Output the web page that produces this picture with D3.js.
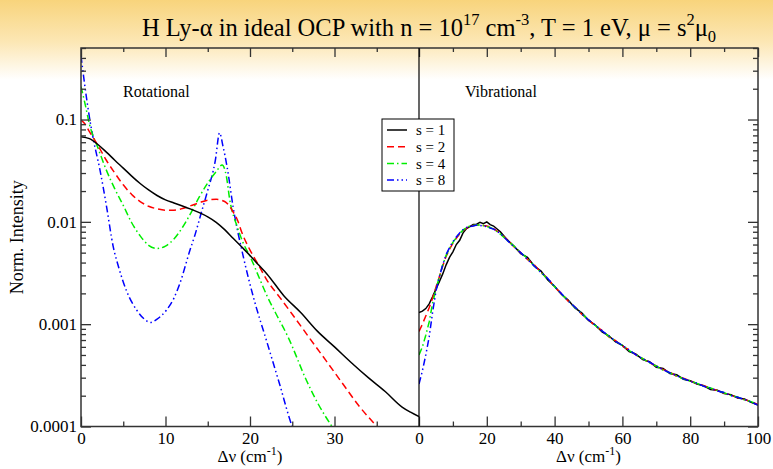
<!DOCTYPE html>
<html>
<head>
<meta charset="utf-8">
<script src="https://cdn.jsdelivr.net/npm/d3@7"></script>
<style>
body { margin: 0; background: #fff; }
svg text { font-family: "Liberation Serif", "Times New Roman", serif; }
</style>
</head>
<body>
<script>
// Rotational panel (x in cm^-1, 0..40)
var rotX1 = [0,1,2,3,4,5,6,7,8,9,10,11,12,13,14,15,16,17,18,19,20,21,22,24,26,28,30,32,34,36,38,39,40];
var rotY1 = [0.068,0.065,0.057,0.048,0.040,0.0335,0.028,0.0237,0.0205,0.0181,0.0164,0.0153,0.0143,0.0133,0.0123,0.0112,0.0099,0.0084,0.0069,0.0057,0.0047,0.0038,0.0031,0.0019,0.0013,0.00085,0.00060,0.00042,0.00030,0.00022,0.000155,0.000138,0.000125];

var rotX2 = [0,0.5,1,2,3,4,5,6,7,8,9,10,11,12,13,14,15,16,17,17.5,18,18.5,19,20,21,22,23.5,25,27,29,31,33,35,36];
var rotY2 = [0.099,0.09,0.076,0.056,0.040,0.030,0.023,0.0185,0.0158,0.0142,0.0134,0.0130,0.0130,0.0135,0.0144,0.0154,0.0163,0.0166,0.0158,0.0145,0.0125,0.0105,0.0080,0.0053,0.0038,0.0027,0.00184,0.00125,0.00074,0.00044,0.00026,0.000155,0.0001,0.00008];

var rotX4 = [0,0.5,1,2,3,4,5,6,7,8,9,10,11,12,13,14,15,16,16.7,17.2,17.6,18.5,19.2,20,21.2,22,23,24.5,26.7,28,29.7,30.5];
var rotY4 = [0.21,0.14,0.09,0.053,0.032,0.021,0.0145,0.0098,0.0073,0.0059,0.0055,0.0058,0.0068,0.0088,0.0122,0.0175,0.024,0.031,0.036,0.028,0.0165,0.0089,0.0062,0.0046,0.0027,0.0019,0.0013,0.00075,0.00028,0.00017,0.0001,0.00008];

var rotX8 = [0,0.5,1,1.5,2.25,3,3.8,4.5,5.4,6.6,7.5,8.2,9,10.1,11,11.7,12.9,13.5,14.2,14.9,15.9,16.4,16.8,17.3,18,19.2,20.4,22,23.5,25,25.5];
var rotY8 = [0.42,0.2,0.105,0.062,0.032,0.0145,0.0058,0.0035,0.0021,0.00137,0.00112,0.00104,0.00112,0.00137,0.0018,0.0025,0.0053,0.0075,0.012,0.019,0.040,0.074,0.055,0.034,0.014,0.0046,0.00184,0.00067,0.00026,0.0001,0.00008];

// Vibrational panel (x in cm^-1, 0..100)
var vibX = [0,1,2,3,4,5,6,7,8,9,10,11,12,13,14,15,16,17,18,19,20,21,22,24,26,28,30,32,34,36,38,40,42,44,46,48,50,52,54,56,58,60,62,64,66,68,70,72,74,76,78,80,82,84,86,88,90,92,94,96,98,100];
var vibY1 = [0.00130,0.00134,0.00142,0.00158,0.00185,0.0022,0.0026,0.0031,0.0038,0.0045,0.0051,0.0060,0.0066,0.0078,0.0086,0.0090,0.0094,0.0095,0.0099,0.0096,0.0100,0.0094,0.0091,0.0080,0.0067,0.0058,0.0049,0.0045,0.0037,0.0033,0.0027,0.00235,0.00196,0.00172,0.00144,0.00129,0.00109,0.00098,0.00084,0.00077,0.00067,0.00062,0.00054,0.00051,0.00045,0.00043,0.00038,0.00037,0.00033,0.00032,0.00029,0.00028,0.00026,0.00025,0.00023,0.000226,0.00021,0.000205,0.00019,0.000186,0.000172,0.000162];
var vibY2 = [0.00085,0.00100,0.00120,0.00145,0.0018,0.0023,0.0029,0.0037,0.0046,0.0054,0.0062,0.0069,0.0076,0.0082,0.0087,0.0090,0.0092,0.0093,0.0094,0.0092,0.0091,0.0089,0.0086,0.0077,0.0067,0.0057,0.0050,0.0043,0.0038,0.0032,0.0028,0.0023,0.00199,0.00168,0.00147,0.00125,0.00111,0.00096,0.00087,0.00075,0.00069,0.00061,0.00056,0.00050,0.00046,0.00042,0.00039,0.00036,0.00034,0.00031,0.000296,0.00028,0.000262,0.00025,0.000236,0.000225,0.000212,0.000203,0.000192,0.000183,0.000176,0.000164];
var vibY4 = [0.00050,0.00060,0.00078,0.00105,0.0016,0.0022,0.0029,0.0038,0.0047,0.0055,0.0063,0.0070,0.0077,0.0083,0.0088,0.0091,0.0092,0.0093,0.0093,0.0092,0.0090,0.0088,0.0085,0.0076,0.0066,0.0058,0.0050,0.0044,0.0037,0.0032,0.00275,0.00232,0.00197,0.0017,0.00146,0.00127,0.0011,0.00097,0.00086,0.00076,0.00068,0.00062,0.00055,0.000505,0.00046,0.00042,0.00039,0.000355,0.000335,0.000312,0.000292,0.000278,0.000264,0.000248,0.000238,0.000224,0.000214,0.000201,0.000194,0.000182,0.000175,0.000163];
var vibY8 = [0.00026,0.00035,0.00050,0.00075,0.0013,0.0021,0.0029,0.0038,0.0048,0.0056,0.0064,0.0071,0.0078,0.0084,0.0088,0.0090,0.0091,0.0093,0.0092,0.0091,0.0090,0.0087,0.0085,0.0077,0.0066,0.0057,0.0050,0.0043,0.0037,0.0032,0.0028,0.00233,0.00199,0.00169,0.00147,0.00126,0.0011,0.00098,0.00086,0.00077,0.00068,0.00062,0.00056,0.0005,0.00046,0.000425,0.00039,0.000358,0.000335,0.000314,0.000294,0.000276,0.000265,0.000247,0.000237,0.000223,0.000215,0.0002,0.000193,0.000184,0.000173,0.000162];

var seriesNames = ["s = 1", "s = 2", "s = 4", "s = 8"];
var rotTicks = [0, 10, 20, 30];
var vibTicks = [0, 20, 40, 60, 80, 100];
var yTicks = [1e-4, 1e-3, 1e-2, 1e-1];
var yTickLabels = ["0.0001", "0.001", "0.01", "0.1"];

// line styles
var colors = ["#000000", "#ff0000", "#00ee00", "#0000ff"];
var dashes = [null, "7,4", "7,3,1.5,3", "7,3,1.5,3,1.5,3"];

var W = 773, H = 469;
var m = { left: 81, mid: 419, right: 758, top: 48, bottom: 426.5 };
var font = "Liberation Serif";

var svg = d3.select("body").append("svg")
    .attr("width", W)
    .attr("height", H);

// page background gradient
var defs = svg.append("defs");
var grad = defs.append("linearGradient")
    .attr("id", "bg").attr("x1", 0).attr("y1", 0).attr("x2", 0).attr("y2", 1);
grad.append("stop").attr("offset", 0).attr("stop-color", "#f8d47c");
grad.append("stop").attr("offset", 0.09).attr("stop-color", "#fce7b5");
grad.append("stop").attr("offset", 0.17).attr("stop-color", "#ffffff");
svg.append("rect").attr("width", W).attr("height", H).attr("fill", "url(#bg)");

defs.append("clipPath").attr("id", "clipRot").append("rect")
    .attr("x", m.left).attr("y", m.top).attr("width", m.mid - m.left).attr("height", m.bottom - m.top);
defs.append("clipPath").attr("id", "clipVib").append("rect")
    .attr("x", m.mid).attr("y", m.top).attr("width", m.right - m.mid).attr("height", m.bottom - m.top);

var xRot = d3.scaleLinear().domain([0, 40]).range([m.left, m.mid]);
var xVib = d3.scaleLinear().domain([0, 100]).range([m.mid, m.right]);
var y = d3.scaleLog().domain([1e-4, 0.5]).range([m.bottom, m.top]);

function zip(xs, ys) {
    return xs.map(function(d, i) { return [d, ys[i]]; });
}

var rotData = [zip(rotX1, rotY1), zip(rotX2, rotY2), zip(rotX4, rotY4), zip(rotX8, rotY8)];
var vibData = [zip(vibX, vibY1), zip(vibX, vibY2), zip(vibX, vibY4), zip(vibX, vibY8)];

var rotLine = d3.line()
    .x(function(d) { return xRot(d[0]); })
    .y(function(d) { return y(d[1]); })
    .curve(d3.curveMonotoneX);
var vibLine = d3.line()
    .x(function(d) { return xVib(d[0]); })
    .y(function(d) { return y(d[1]); });

// draw blue first so black ends up on top
var order = [3, 2, 1, 0];
svg.append("g").attr("clip-path", "url(#clipRot)")
    .selectAll("path")
    .data(order)
    .enter()
    .append("path")
    .attr("d", function(i) { return rotLine(rotData[i]); })
    .attr("fill", "none")
    .attr("stroke", function(i) { return colors[i]; })
    .attr("stroke-width", 1.5)
    .attr("stroke-dasharray", function(i) { return dashes[i]; });

svg.append("g").attr("clip-path", "url(#clipVib)")
    .selectAll("path")
    .data([0, 1, 2, 3])
    .enter()
    .append("path")
    .attr("d", function(i) { return vibLine(vibData[i]); })
    .attr("fill", "none")
    .attr("stroke", function(i) { return colors[i]; })
    .attr("stroke-width", 1.5)
    .attr("stroke-dasharray", function(i) { return dashes[i]; });

// axes: ticks point inward
function styleAxis(g) {
    g.select(".domain").remove();
    g.attr("font-size", 17).attr("font-family", font);
    g.selectAll("line").attr("stroke", "#333").attr("stroke-width", 1.3);
    g.selectAll("text").attr("fill", "#000");
}

function xAxisPair(scale, majors, minors, labelled) {
    var bot = svg.append("g").attr("transform", "translate(0," + m.bottom + ")");
    bot.call(d3.axisBottom(scale).tickValues(majors).tickSize(-10).tickPadding(5)
        .tickFormat(labelled ? d3.format("d") : ""));
    styleAxis(bot);
    var botMinor = svg.append("g").attr("transform", "translate(0," + m.bottom + ")");
    botMinor.call(d3.axisBottom(scale).tickValues(minors).tickSize(-5).tickFormat(""));
    styleAxis(botMinor);
    var tp = svg.append("g").attr("transform", "translate(0," + m.top + ")");
    tp.call(d3.axisTop(scale).tickValues(majors).tickSize(-9).tickFormat(""));
    styleAxis(tp);
    var tpMinor = svg.append("g").attr("transform", "translate(0," + m.top + ")");
    tpMinor.call(d3.axisTop(scale).tickValues(minors).tickSize(-4).tickFormat(""));
    styleAxis(tpMinor);
}

xAxisPair(xRot, rotTicks, [5, 15, 25, 35], true);
xAxisPair(xVib, vibTicks, [10, 30, 50, 70, 90], true);

var yMinor = [];
[1e-4, 1e-3, 1e-2, 1e-1].forEach(function(dec) {
    for (var k = 2; k <= 9; k++) {
        var v = dec * k;
        if (v <= 0.5) yMinor.push(v);
    }
});

var yl = svg.append("g").attr("transform", "translate(" + m.left + ",0)");
yl.call(d3.axisLeft(y).tickValues(yTicks).tickSize(-10).tickPadding(4)
    .tickFormat(function(d, i) { return yTickLabels[i]; }));
styleAxis(yl);
var ylMinor = svg.append("g").attr("transform", "translate(" + m.left + ",0)");
ylMinor.call(d3.axisLeft(y).tickValues(yMinor).tickSize(-5).tickFormat(""));
styleAxis(ylMinor);

var yr = svg.append("g").attr("transform", "translate(" + m.right + ",0)");
yr.call(d3.axisRight(y).tickValues(yTicks).tickSize(-10).tickFormat(""));
styleAxis(yr);
var yrMinor = svg.append("g").attr("transform", "translate(" + m.right + ",0)");
yrMinor.call(d3.axisRight(y).tickValues(yMinor).tickSize(-5).tickFormat(""));
styleAxis(yrMinor);

// frame and panel divider
svg.append("rect")
    .attr("x", m.left).attr("y", m.top)
    .attr("width", m.right - m.left).attr("height", m.bottom - m.top)
    .attr("fill", "none")
    .attr("stroke", "#333")
    .attr("stroke-width", 1.5);
svg.append("line")
    .attr("x1", m.mid).attr("x2", m.mid)
    .attr("y1", m.top).attr("y2", m.bottom)
    .attr("stroke", "#000")
    .attr("stroke-width", 1.2);

// legend
var legend = svg.append("g").attr("transform", "translate(382,119)");
legend.append("rect")
    .attr("width", 72).attr("height", 72)
    .attr("fill", "#fff")
    .attr("stroke", "#000")
    .attr("stroke-width", 1);
var rows = legend.selectAll(".row")
    .data(seriesNames)
    .enter()
    .append("g")
    .attr("class", "row")
    .attr("transform", function(d, i) { return "translate(0," + (11 + i * 16.7) + ")"; });
rows.append("line")
    .attr("x1", 5).attr("x2", 25)
    .attr("stroke", function(d, i) { return colors[i]; })
    .attr("stroke-width", 1.5)
    .attr("stroke-dasharray", function(d, i) { return dashes[i]; });
rows.append("text")
    .attr("x", 34)
    .attr("dy", "0.35em")
    .style("font-size", "15px")
    .text(function(d) { return d; });

// panel labels
svg.append("text").attr("x", 123).attr("y", 97).style("font-size", "16px").text("Rotational");
svg.append("text").attr("x", 465).attr("y", 97).style("font-size", "16px").text("Vibrational");

// axis titles
function xTitle(cx) {
    var t = svg.append("text")
        .attr("x", cx).attr("y", 462)
        .attr("text-anchor", "middle")
        .style("font-size", "17px");
    t.append("tspan").text("\u0394\u03bd (cm");
    t.append("tspan").attr("dy", -7).style("font-size", "12px").text("-1");
    t.append("tspan").attr("dy", 7).text(")");
}
xTitle((m.left + m.mid) / 2);
xTitle((m.mid + m.right) / 2);

svg.append("text")
    .attr("transform", "translate(23," + ((m.top + m.bottom) / 2) + ") rotate(-90)")
    .attr("text-anchor", "middle")
    .style("font-size", "18px")
    .text("Norm. Intensity");

// title
var title = svg.append("text")
    .attr("x", 429).attr("y", 36)
    .attr("text-anchor", "middle")
    .style("font-size", "24.5px");
title.append("tspan").text("H Ly-\u03b1 in ideal OCP with n = 10");
title.append("tspan").attr("dy", -11).style("font-size", "16.5px").text("17");
title.append("tspan").attr("dy", 11).text(" cm");
title.append("tspan").attr("dy", -11).style("font-size", "16.5px").text("-3");
title.append("tspan").attr("dy", 11).text(", T = 1 eV, \u03bc = s");
title.append("tspan").attr("dy", -11).style("font-size", "16.5px").text("2");
title.append("tspan").attr("dy", 11).text("\u03bc");
title.append("tspan").attr("dy", 6).style("font-size", "16.5px").text("0");
</script>
</body>
</html>
